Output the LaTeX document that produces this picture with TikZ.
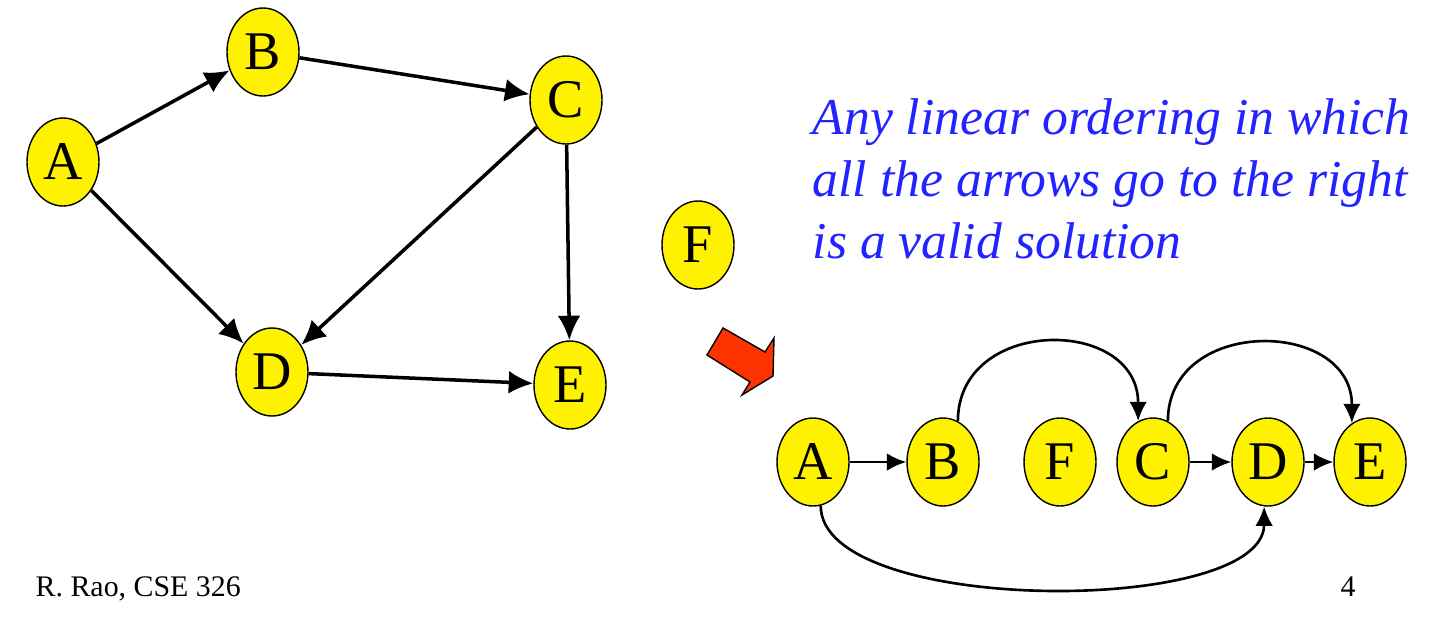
\documentclass[tikz,border=0pt]{standalone}
\usepackage{fontspec}
\setmainfont{Liberation Serif}
\usetikzlibrary{shapes.geometric,arrows.meta}
\definecolor{arrowred}{RGB}{255,51,0}
\definecolor{textblue}{RGB}{35,35,255}

\begin{document}
\begin{tikzpicture}[
    vertex/.style={ellipse, draw, thin, fill=yellow, minimum width=0.72cm, minimum height=0.88cm,
        inner sep=0pt, font=\fontsize{15.5}{18}\selectfont},
    bigedge/.style={->, >={Latex[length=7pt,width=6.5pt]}, line width=1pt},
    smalledge/.style={->, >={Latex[length=5.5pt,width=5pt]}, line width=0.75pt}]
    \useasboundingbox (0,0) rectangle (14.47,-6.32);

    % Граф
    \node[vertex] (A) at (0.63,-1.62) {A};
    \node[vertex] (B) at (2.63,-0.52) {B};
    \node[vertex] (C) at (5.66,-1.00) {C};
    \node[vertex] (D) at (2.72,-3.72) {D};
    \node[vertex] (E) at (5.70,-3.85) {E};
    \node[vertex] (F) at (6.98,-2.45) {F};
    \foreach \u/\v in {A/B, B/C, A/D, C/D, C/E, D/E}
        \draw[bigedge] (\u) -- (\v);

    % Подпись
    \node[anchor=north west, inner sep=0pt, align=left, text=textblue,
        font=\fontsize{14.7}{17.6}\selectfont\itshape] (txt) at (8.12,-0.98)
        {Any linear ordering in which\\all the arrows go to the right\\is a valid solution};

    % Красная стрелка
    \filldraw[fill=arrowred, draw=black, thin] (7.23,-3.28) -- (7.65,-3.52) -- (7.74,-3.38)
        -- (7.73,-3.76) -- (7.42,-3.95) -- (7.50,-3.82) -- (7.07,-3.55) -- cycle;

    % Линейный порядок
    \begin{scope}[yshift=-4.62cm]
        \node[vertex] (a) at (8.13,0) {A};
        \node[vertex] (b) at (9.43,0) {B};
        \node[vertex] (f) at (10.60,0) {F};
        \node[vertex] (c) at (11.53,0) {C};
        \node[vertex] (d) at (12.68,0) {D};
        \node[vertex] (e) at (13.70,0) {E};
    \end{scope}
    \foreach \u/\v in {a/b, c/d, d/e}
        \draw[smalledge] (\u) -- (\v);
    \draw[smalledge] (b.70) .. controls +(0,1.05) and +(0,1.05) .. (c.110);
    \draw[smalledge] (c.70) .. controls +(0,1.05) and +(0,1.05) .. (e.115);
    \draw[smalledge] (a.-80) .. controls +(0,-1.1) and +(0,-1.1) .. (d.-95);

    % Колонтитул
    \node[anchor=base west, inner sep=0pt, font=\fontsize{8.5}{10}\selectfont] (author) at (0.35,-5.96) {R. Rao, CSE 326};
    \node[anchor=base west, inner sep=0pt, font=\fontsize{8.5}{10}\selectfont] (page) at (13.40,-5.96) {4};
\end{tikzpicture}
\end{document}
